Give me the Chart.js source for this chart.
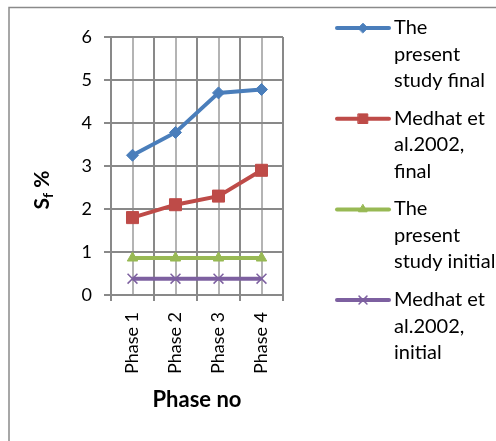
<!DOCTYPE html>
<html>
<head>
<meta charset="utf-8">
<script src="https://cdn.jsdelivr.net/npm/chart.js@4.4.0/dist/chart.umd.min.js"></script>
<style>
  html, body { margin: 0; padding: 0; background: #fff; }
  #wrap { position: relative; width: 496px; height: 441px; }
</style>
</head>
<body>
<div id="wrap"><canvas id="sfchart" width="496" height="441"></canvas></div>
<script>
// data
var phases = ['Phase 1', 'Phase 2', 'Phase 3', 'Phase 4'];
var presentFinal = [3.25, 3.78, 4.7, 4.78];
var medhatFinal = [1.8, 2.1, 2.3, 2.9];
var presentInitial = [0.86, 0.86, 0.86, 0.86];
var medhatInitial = [0.38, 0.38, 0.38, 0.38];
var yMin = 0, yMax = 6, yStep = 1;

// legend text, wrapped like the original
var legendLines = [
  ['The', 'present', 'study final'],
  ['Medhat et', 'al.2002,', 'final'],
  ['The', 'present', 'study initial'],
  ['Medhat et', 'al.2002,', 'initial']
];

var FONT = 'Lato, "Open Sans", sans-serif';
var gridGrey = '#898989';
Chart.defaults.font.family = FONT;
Chart.defaults.color = '#000';

function makeSet(label, data, color, style, radius, bw) {
  return {
    label: label,
    data: data,
    borderColor: color,
    backgroundColor: color,
    pointBackgroundColor: color,
    pointBorderColor: color,
    pointStyle: style,
    pointRadius: radius,
    pointHoverRadius: radius,
    pointBorderWidth: bw,
    borderWidth: 4,
    tension: 0,
    fill: false
  };
}

// frame lines (left + top) round the chart
var framePlugin = {
  id: 'frame',
  beforeDraw: function (chart) {
    var ctx = chart.ctx;
    ctx.save();
    ctx.strokeStyle = '#8a8a8a';
    ctx.lineWidth = 1.5;
    ctx.beginPath();
    ctx.moveTo(9, 441);
    ctx.lineTo(9, 7.5);
    ctx.lineTo(496, 7.5);
    ctx.stroke();
    ctx.restore();
  }
};

// y axis title with subscript f
var yTitlePlugin = {
  id: 'ytitle',
  afterDraw: function (chart) {
    var ctx = chart.ctx;
    ctx.save();
    ctx.translate(49, 190);
    ctx.rotate(-Math.PI / 2);
    ctx.fillStyle = '#000';
    ctx.textBaseline = 'alphabetic';
    var big = 'bold 21px ' + FONT, small = 'bold 14px ' + FONT;
    ctx.font = big; var wS = ctx.measureText('S').width; var wP = ctx.measureText(' %').width;
    ctx.font = small; var wF = ctx.measureText('f').width;
    var x = -(wS + wF + wP) / 2;
    ctx.font = big; ctx.fillText('S', x, 0);
    ctx.font = small; ctx.fillText('f', x + wS, 4);
    ctx.font = big; ctx.fillText(' %', x + wS + wF, 0);
    ctx.restore();
  }
};

// legend on the right, wrapped text
var legendPlugin = {
  id: 'wrapLegend',
  afterDraw: function (chart) {
    var ctx = chart.ctx;
    ctx.save();
    chart.data.datasets.forEach(function (ds, i) {
      var y = 28 + i * 90.7;
      ctx.strokeStyle = ds.borderColor;
      ctx.lineWidth = 4;
      ctx.lineCap = 'round';
      ctx.beginPath();
      ctx.moveTo(337, y);
      ctx.lineTo(389, y);
      ctx.stroke();
      ctx.fillStyle = ds.borderColor;
      ctx.lineWidth = ds.pointBorderWidth;
      Chart.helpers.drawPoint(ctx, {
        pointStyle: ds.pointStyle,
        radius: ds.pointRadius * 0.8,
        rotation: 0,
        borderWidth: ds.pointBorderWidth
      }, 363, y);
      ctx.fillStyle = '#000';
      ctx.font = '20px ' + FONT;
      ctx.textBaseline = 'alphabetic';
      ctx.textAlign = 'left';
      legendLines[i].forEach(function (t, k) {
        ctx.fillText(t, 394, 34 + i * 90.7 + k * 26.5);
      });
    });
    ctx.restore();
  }
};

var chart = new Chart(document.getElementById('sfchart'), {
  type: 'line',
  data: {
    labels: phases,
    datasets: [
      makeSet('The present study final', presentFinal, '#4a7ebb', 'rectRot', 6, 1),
      makeSet('Medhat et al.2002, final', medhatFinal, '#be4b48', 'rect', 8.5, 1),
      makeSet('The present study initial', presentInitial, '#98b954', 'triangle', 6, 1),
      makeSet('Medhat et al.2002, initial', medhatInitial, '#7d60a0', 'crossRot', 7, 1.5)
    ]
  },
  options: {
    responsive: false,
    animation: false,
    layout: { padding: { left: 0, right: 213, top: 37, bottom: 0 } },
    plugins: {
      legend: { display: false },
      tooltip: { enabled: false }
    },
    scales: {
      x: {
        type: 'category',
        position: 'bottom',
        offset: true,
        grid: { offset: true, color: gridGrey, lineWidth: 2, tickLength: 6 },
        border: { color: gridGrey, width: 2 },
        ticks: { minRotation: 90, maxRotation: 90, padding: 11, font: { size: 18 }, color: '#000' },
        title: { display: true, text: 'Phase no', font: { size: 22, weight: 'bold' }, color: '#000', padding: { top: 0, bottom: 28 } },
        afterFit: function (s) { s.height = 146; }
      },
      x2: {
        type: 'category',
        position: 'bottom',
        offset: true,
        grid: { offset: false, color: '#b4b4b4', lineWidth: 2, drawTicks: false },
        border: { display: false },
        ticks: { display: false },
        afterFit: function (s) { s.height = 0; }
      },
      y: {
        min: yMin,
        max: yMax,
        ticks: { stepSize: yStep, padding: 12, font: { size: 18 }, color: '#000' },
        grid: { color: gridGrey, lineWidth: 2, tickLength: 7 },
        border: { color: gridGrey, width: 2 },
        afterFit: function (s) { s.width = 111; }
      }
    }
  },
  plugins: [framePlugin, yTitlePlugin, legendPlugin]
});
</script>
</body>
</html>
